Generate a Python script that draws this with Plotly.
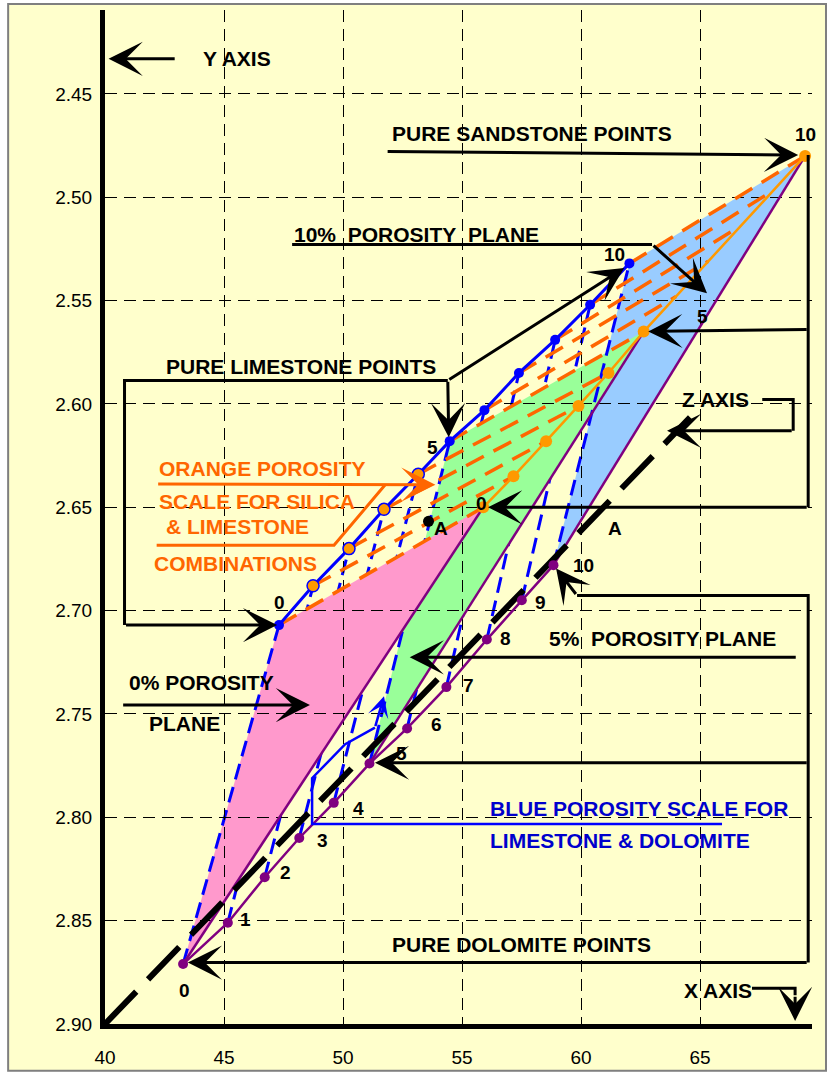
import plotly.graph_objects as go

# ---------------- data ----------------
porosity_steps = list(range(11))
dolomite_x = [43.28, 45.16, 46.71, 48.16, 49.61, 51.11, 52.69, 54.34, 56.04, 57.51, 58.84]
dolomite_y = [2.871, 2.851, 2.829, 2.810, 2.793, 2.774, 2.757, 2.737, 2.714, 2.695, 2.678]
limestone_x = [47.31, 48.74, 50.25, 51.72, 53.16, 54.48, 55.94, 57.39, 58.91, 60.38, 62.03]
limestone_y = [2.707, 2.688, 2.670, 2.651, 2.634, 2.618, 2.603, 2.585, 2.569, 2.552, 2.532]
sandstone_x = [55.89, 57.16, 58.53, 59.89, 61.15, 62.63, 63.99, 65.34, 66.68, 68.03, 69.41]
sandstone_y = [2.650, 2.635, 2.618, 2.601, 2.585, 2.565, 2.548, 2.531, 2.514, 2.497, 2.480]
sandstone_marked = [0, 1, 2, 3, 4, 5, 10]
limestone_orange_marked = [1, 2, 3, 4]
plane_porosity = [10, 5, 0]
z_axis_x = [40.0, 64.58]
z_axis_y = [2.90, 2.6065]
point_a_x = [53.59]
point_a_y = [2.6568]
x_ticks = [40, 45, 50, 55, 60, 65]
y_ticks = [2.45, 2.50, 2.55, 2.60, 2.65, 2.70, 2.75, 2.80, 2.85, 2.90]
y_tick_text = ["2.45", "2.50", "2.55", "2.60", "2.65", "2.70", "2.75", "2.80", "2.85", "2.90"]

# ---------------- styles ----------------
FONT = "Liberation Sans, Arial, sans-serif"
PURPLE = "#800080"
BLUE = "#0000FF"
ORANGE_DASH = "#FF6600"
ORANGE = "#FF9900"
TEXT_BLUE = "#0000CC"
PLANE_COLORS = {0: "#FF99CC", 5: "#99FF99", 10: "#99CCFF"}
BLUE_DASH = "16px,8px"

fig = go.Figure()
shapes = []
annotations = []

# outer yellow panel
shapes.append(dict(type="rect", xref="paper", yref="paper", x0=-0.137, x1=1.0198,
                   y0=-0.046, y1=1.006, fillcolor="#FFFFCC",
                   line=dict(color="#7F7F7F", width=2), layer="below"))


def plane_shape(i):
    path = (f"M{dolomite_x[i]},{dolomite_y[i]} L{limestone_x[i]},{limestone_y[i]} "
            f"L{sandstone_x[i]},{sandstone_y[i]} Z")
    return dict(type="path", path=path, xref="x", yref="y",
                fillcolor=PLANE_COLORS[i], line=dict(width=0), layer="below")


def blue_dash_shape(i):
    return dict(type="line", xref="x", yref="y",
                x0=dolomite_x[i], y0=dolomite_y[i], x1=limestone_x[i], y1=limestone_y[i],
                line=dict(color=BLUE, width=3, dash=BLUE_DASH), layer="below")


# planes and blue porosity-scale lines (painter's order)
shapes.append(plane_shape(10))
for i in porosity_steps:
    if i not in plane_porosity:
        shapes.append(blue_dash_shape(i))
shapes.append(plane_shape(5))
shapes.append(blue_dash_shape(5))
shapes.append(plane_shape(0))
shapes.append(blue_dash_shape(0))
shapes.append(blue_dash_shape(10))

# purple edges dolomite -> sandstone for the three planes
for i in plane_porosity:
    fig.add_trace(go.Scatter(x=[dolomite_x[i], sandstone_x[i]], y=[dolomite_y[i], sandstone_y[i]],
                             mode="lines", line=dict(color=PURPLE, width=2.5), hoverinfo="skip"))

# orange dashed silica-limestone porosity lines
for i in porosity_steps:
    fig.add_trace(go.Scatter(x=[limestone_x[i], sandstone_x[i]], y=[limestone_y[i], sandstone_y[i]],
                             mode="lines", line=dict(color=ORANGE_DASH, width=3.5, dash="20px,11px"),
                             hoverinfo="skip"))

# Z axis
fig.add_trace(go.Scatter(x=z_axis_x, y=z_axis_y, mode="lines",
                         line=dict(color="black", width=6, dash="45px,17px"), hoverinfo="skip"))

# sandstone (orange) line
fig.add_trace(go.Scatter(x=sandstone_x, y=sandstone_y, mode="lines",
                         line=dict(color=ORANGE, width=2.5), hoverinfo="skip"))
fig.add_trace(go.Scatter(x=[sandstone_x[i] for i in sandstone_marked],
                         y=[sandstone_y[i] for i in sandstone_marked], mode="markers",
                         marker=dict(color=ORANGE, size=12), cliponaxis=False, hoverinfo="skip"))

# dolomite (purple) line
fig.add_trace(go.Scatter(x=dolomite_x, y=dolomite_y, mode="lines+markers",
                         line=dict(color=PURPLE, width=2.5),
                         marker=dict(color=PURPLE, size=10), hoverinfo="skip"))

# limestone (blue) line
fig.add_trace(go.Scatter(x=limestone_x, y=limestone_y, mode="lines+markers",
                         line=dict(color=BLUE, width=3),
                         marker=dict(color=BLUE, size=10), hoverinfo="skip"))
fig.add_trace(go.Scatter(x=[limestone_x[i] for i in limestone_orange_marked],
                         y=[limestone_y[i] for i in limestone_orange_marked], mode="markers",
                         marker=dict(color=ORANGE, size=12, line=dict(color=BLUE, width=1.5)),
                         hoverinfo="skip"))

# point A
fig.add_trace(go.Scatter(x=point_a_x, y=point_a_y, mode="markers",
                         marker=dict(color="black", size=11), hoverinfo="skip"))


# ---------------- annotation helpers ----------------
def txt(x, y, s, size=21, color="black", xanchor="left"):
    annotations.append(dict(x=x, y=y, xref="x", yref="y", text=f"<b>{s}</b>", showarrow=False,
                            xanchor=xanchor, yanchor="middle",
                            font=dict(size=size, color=color, family=FONT)))


def arrow(x0, y0, x1, y1, color="black", width=3, size=1.9):
    annotations.append(dict(x=x1, y=y1, ax=x0, ay=y0, xref="x", yref="y", axref="x", ayref="y",
                            text="", showarrow=True, arrowhead=3, arrowsize=size,
                            arrowwidth=width, arrowcolor=color))


def poly(pts, color="black", width=3):
    path = "M" + " L".join(f"{x},{y}" for x, y in pts)
    shapes.append(dict(type="path", path=path, xref="x", yref="y",
                       line=dict(color=color, width=width), layer="above"))


# Y axis
txt(44.02, 2.433, "Y AXIS")
arrow(42.99, 2.433, 40.15, 2.433)
# pure sandstone points
txt(51.98, 2.4691, "PURE SANDSTONE POINTS")
arrow(51.81, 2.4778, 69.12, 2.4796)
poly([(69.54, 2.4796), (69.54, 2.65)])
arrow(69.54, 2.5640, 62.82, 2.5649)
arrow(69.54, 2.65, 56.09, 2.65)
# pure dolomite points
txt(51.98, 2.8614, "PURE DOLOMITE POINTS")
poly([(59.83, 2.6927), (69.54, 2.6927), (69.54, 2.8703)])
arrow(59.83, 2.6927, 58.95, 2.6796)
arrow(69.54, 2.7736, 51.34, 2.7736)
arrow(69.54, 2.8703, 43.48, 2.8703)
# X axis
txt(64.24, 2.8837, "X AXIS")
poly([(67.18, 2.8827), (68.99, 2.8827), (68.99, 2.8861)])
arrow(68.99, 2.8861, 68.99, 2.8985)
# Z axis
txt(64.16, 2.5978, "Z AXIS")
poly([(67.61, 2.5978), (68.91, 2.5978), (68.91, 2.6130)])
arrow(68.91, 2.6130, 63.61, 2.6130)
# 10% porosity plane
txt(47.86, 2.5180, "10%&nbsp; POROSITY&nbsp; PLANE")
poly([(47.86, 2.5228), (62.98, 2.5228)])
arrow(62.98, 2.5228, 65.29, 2.5465)
# pure limestone points
txt(42.46, 2.5820, "PURE LIMESTONE POINTS")
poly([(40.82, 2.707), (40.82, 2.5886), (54.40, 2.5886)])
arrow(40.82, 2.707, 47.23, 2.707)
arrow(54.40, 2.5886, 54.44, 2.6161)
arrow(54.40, 2.5886, 61.81, 2.5342)
# orange porosity scale
txt(42.17, 2.6313, "ORANGE POROSITY", color=ORANGE_DASH)
arrow(42.17, 2.6387, 53.88, 2.6391, color=ORANGE_DASH)
txt(42.17, 2.6474, "SCALE FOR SILICA", color=ORANGE_DASH)
txt(42.46, 2.6592, "&amp; LIMESTONE", color=ORANGE_DASH)
poly([(42.17, 2.6684), (49.62, 2.6684), (51.77, 2.6391)], color=ORANGE_DASH)
txt(41.97, 2.6772, "COMBINATIONS", color=ORANGE_DASH)
# 0% porosity plane
txt(40.94, 2.7349, "0% POROSITY")
txt(41.76, 2.7547, "PLANE")
arrow(40.70, 2.7457, 48.61, 2.7457)
# 5% porosity plane
txt(58.57, 2.7134, "5%&nbsp; POROSITY PLANE")
arrow(69.08, 2.7226, 52.80, 2.7226)
# blue porosity scale
txt(56.09, 2.7958, "BLUE POROSITY SCALE FOR", color=TEXT_BLUE)
txt(56.09, 2.8111, "LIMESTONE &amp; DOLOMITE", color=TEXT_BLUE)
poly([(65.92, 2.8032), (48.70, 2.8032), (48.70, 2.7811), (50.09, 2.7646), (51.34, 2.7566)],
     color=BLUE, width=2.5)
arrow(51.34, 2.7566, 51.72, 2.7414, color=BLUE, width=2.5, size=1.4)

# point labels
for (lx, ly, s) in [(43.35, 2.8837, "0"), (45.89, 2.8495, "1"), (47.58, 2.8267, "2"),
                    (49.12, 2.8112, "3"), (50.63, 2.7959, "4"), (52.47, 2.7692, "5"),
                    (53.91, 2.7550, "6"), (55.26, 2.7360, "7"), (56.81, 2.7136, "8"),
                    (58.28, 2.6961, "9"), (60.08, 2.6781, "10"),
                    (47.34, 2.6961, "0"), (53.76, 2.6210, "5"), (61.39, 2.5276, "10"),
                    (55.83, 2.6483, "0"), (65.08, 2.5575, "5"), (69.41, 2.4694, "10"),
                    (54.13, 2.6605, "A"), (61.43, 2.6605, "A")]:
    txt(lx, ly, s, size=19, xanchor="center")

fig.update_traces(showlegend=False)
fig.update_layout(
    width=831, height=1078,
    margin=dict(l=105, r=19, t=10, b=50),
    paper_bgcolor="white", plot_bgcolor="rgba(0,0,0,0)",
    showlegend=False,
    shapes=shapes, annotations=annotations,
    font=dict(family=FONT, color="black"),
    xaxis=dict(range=[40, 69.7], tickvals=x_ticks, showgrid=True, gridcolor="black",
               gridwidth=1, griddash="12px,7px", zeroline=False, showline=True,
               linecolor="black", linewidth=5, ticks="", tickfont=dict(size=19, family=FONT),
               ticklabelstandoff=12),
    yaxis=dict(range=[2.90, 2.4094], tickvals=y_ticks, ticktext=y_tick_text, showgrid=True,
               gridcolor="black", gridwidth=1, griddash="12px,7px", zeroline=False,
               showline=True, linecolor="black", linewidth=5, ticks="",
               tickfont=dict(size=19, family=FONT), ticklabelstandoff=4),
)

fig.write_html("out.html")
